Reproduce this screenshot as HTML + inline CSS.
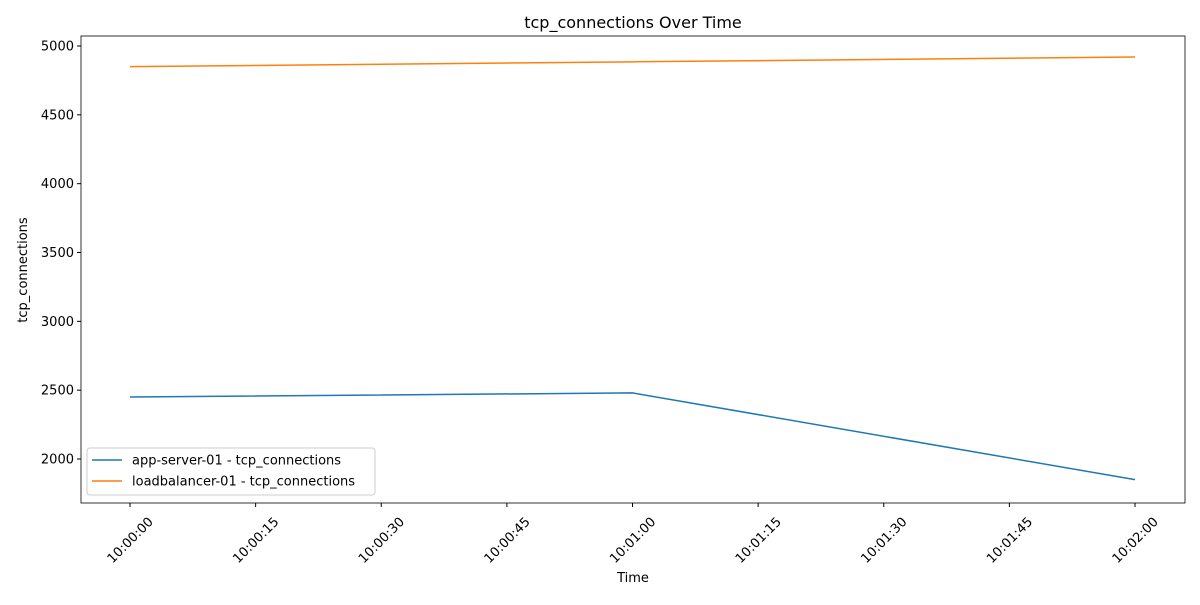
<!DOCTYPE html>
<html><head><meta charset="utf-8"><style>
body{margin:0;background:#fff;font-family:"Liberation Sans","DejaVu Sans",sans-serif;}
</style></head><body>
<svg id="chart" width="1200" height="600" xmlns="http://www.w3.org/2000/svg" font-family="DejaVu Sans, Liberation Sans, sans-serif">
<rect width="1200" height="600" fill="#fff"/>
<text x="633" y="28" text-anchor="middle" font-size="16">tcp_connections Over Time</text>
<g id="plot"></g>
<text x="633" y="582" text-anchor="middle" font-size="13">Time</text>
<text transform="translate(27,270) rotate(-90)" text-anchor="middle" font-size="13">tcp_connections</text>
</svg>
<script>
const timeSeconds = [0, 60, 120];
const appServer = [2450, 2480, 1850];
const loadBalancer = [4850, 4885, 4920];
const yTicks = [2000, 2500, 3000, 3500, 4000, 4500, 5000];
const xTickSeconds = [0, 15, 30, 45, 60, 75, 90, 105, 120];
const xTickLabels = ["10:00:00","10:00:15","10:00:30","10:00:45","10:01:00","10:01:15","10:01:30","10:01:45","10:02:00"];
const seriesNames = ["app-server-01 - tcp_connections","loadbalancer-01 - tcp_connections"];

const L=81,R=1185,T=36,B=503;
const xS = s => 130 + s*(1005/120);
const yS = v => 46 + (5000-v)*(413/3000);
const NS="http://www.w3.org/2000/svg";
const g=document.getElementById('plot');
function mk(tag,attrs,parent){const e=document.createElementNS(NS,tag);for(const k in attrs)e.setAttribute(k,attrs[k]);(parent||g).appendChild(e);return e;}

yTicks.forEach(v=>{
  const y=yS(v);
  const t=mk('line',{x1:L-4,x2:L,y1:y,y2:y,stroke:'#000'});
  
  
  const tx=mk('text',{x:L-7,y:y+4.5,'text-anchor':'end','font-size':13});
  tx.textContent=v;
  
  
});
xTickSeconds.forEach((s,i)=>{
  const x=xS(s);
  const t=mk('line',{x1:x,x2:x,y1:B,y2:B+4,stroke:'#000'});
  
  
  const tx=mk('text',{x:0,y:4.5,'text-anchor':'middle','font-size':13,transform:`translate(${x},${B+37}) rotate(-45)`});
  tx.textContent=xTickLabels[i];
  
  
});
const colors=['#1f77b4','#ff7f0e'];
[appServer,loadBalancer].forEach((vals,si)=>{
  const p=mk('polyline',{points:vals.map((v,i)=>xS(timeSeconds[i])+','+yS(v)).join(' '),fill:'none',stroke:colors[si],'stroke-width':1.5});
  
  
});
const frame=mk('rect',{x:L,y:T,width:R-L,height:B-T,fill:'none',stroke:'#000','stroke-width':0.8});


const lg=mk('g',{});


mk('rect',{x:87,y:448,width:288,height:47,rx:3,fill:'#fff',stroke:'#ccc'},lg);
seriesNames.forEach((n,i)=>{
  const y=460+i*21;
  const ln=mk('line',{x1:92,x2:122,y1:y,y2:y,stroke:colors[i],'stroke-width':1.5},lg);
  
  
  const tx=mk('text',{x:132,y:y+4.5,'font-size':13},lg);
  tx.textContent=n;
  
  
});
</script>
</body></html>
